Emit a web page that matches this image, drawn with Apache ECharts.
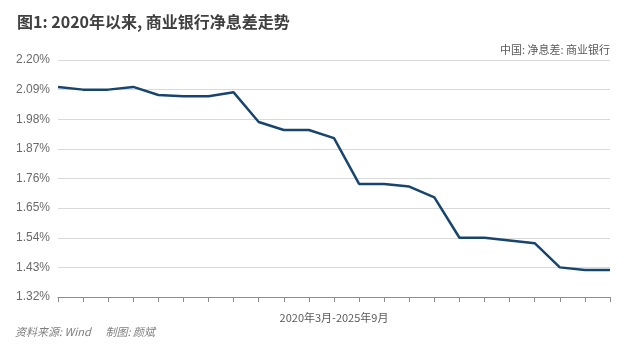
<!DOCTYPE html>
<html><head><meta charset="utf-8">
<script src="https://cdn.jsdelivr.net/npm/echarts@6/dist/echarts.min.js"></script>
<style>html,body{margin:0;padding:0;background:#fff}#c{width:640px;height:354px}</style>
</head><body><div id="c"></div>
<script>
const categories = ['2020-03','2020-06','2020-09','2020-12','2021-03','2021-06','2021-09','2021-12','2022-03','2022-06','2022-09','2022-12','2023-03','2023-06','2023-09','2023-12','2024-03','2024-06','2024-09','2024-12','2025-03','2025-06','2025-09'];
const nimValues = [2.10,2.09,2.09,2.10,2.07,2.065,2.065,2.08,1.97,1.94,1.94,1.91,1.74,1.74,1.73,1.69,1.54,1.54,1.53,1.52,1.43,1.42,1.42];
const yTicks = {min:1.32, max:2.20, interval:0.11};

const chart = echarts.init(document.getElementById('c'));
const F = 'Liberation Sans, Noto Sans CJK SC, sans-serif';
chart.setOption({
  animation:false,
  textStyle:{fontFamily:F},
  title:[
    {text:'图1: 2020年以来, 商业银行净息差走势', left:12, top:9, textStyle:{fontSize:16, fontWeight:'bold', color:'#404040', fontFamily:'Noto Sans CJK SC'}},
    {text:'中国: 净息差: 商业银行', right:25, top:39, textStyle:{fontSize:11, fontWeight:'normal', color:'#595959', fontFamily:'Noto Sans CJK SC'}},
    {text:'资料来源: Wind      制图: 颜斌', left:10, top:321, textStyle:{fontSize:11, fontWeight:'normal', fontStyle:'italic', color:'#7f7f7f', fontFamily:'Noto Sans CJK SC'}}
  ],
  grid:{left:58, right:30, top:60, bottom:57},
  xAxis:{
    type:'category', data:categories, boundaryGap:false,
    name:'2020年3月-2025年9月', nameLocation:'middle', nameGap:15,
    nameTextStyle:{fontSize:11, color:'#595959', fontFamily:'Noto Sans CJK SC'},
    axisLine:{lineStyle:{color:'#8c8c8c', width:1}},
    axisTick:{show:true, interval:0, inside:false, length:5, lineStyle:{color:'#8c8c8c'}},
    axisLabel:{show:false, interval:0},
    splitLine:{show:false}
  },
  yAxis:{
    type:'value', min:yTicks.min, max:yTicks.max, interval:yTicks.interval,
    axisLine:{show:false}, axisTick:{show:false},
    axisLabel:{formatter:v=>v.toFixed(2)+'%', fontSize:12, color:'#6a6a6a', margin:8},
    splitLine:{lineStyle:{color:'#d9d9d9', width:1}}
  },
  series:[{
    type:'line', data:nimValues, symbol:'none', smooth:false,
    lineStyle:{color:'#17456e', width:2.5}
  }]
});
</script></body></html>
